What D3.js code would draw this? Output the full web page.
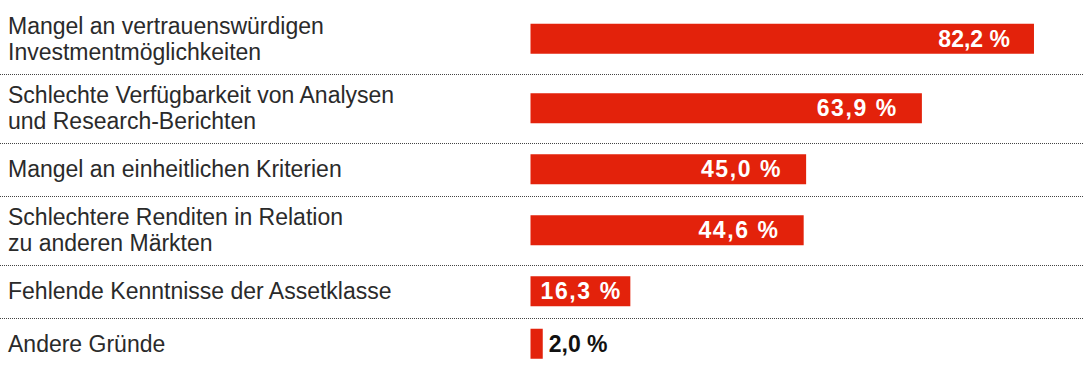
<!DOCTYPE html>
<html>
<head>
<meta charset="utf-8">
<script src="https://cdn.jsdelivr.net/npm/d3@7"></script>
<style>
  body { margin: 0; background: #fff; }
</style>
</head>
<body>
<svg class="chart"></svg>
<script>
var width = 1083,
    height = 365;

// data
var categories = [
  ["Mangel an vertrauenswürdigen", "Investmentmöglichkeiten"],
  ["Schlechte Verfügbarkeit von Analysen", "und Research-Berichten"],
  ["Mangel an einheitlichen Kriterien"],
  ["Schlechtere Renditen in Relation", "zu anderen Märkten"],
  ["Fehlende Kenntnisse der Assetklasse"],
  ["Andere Gründe"]
];
var values = [82.2, 63.9, 45.0, 44.6, 16.3, 2.0];
var valueLabels = ["82,2 %", "63,9 %", "45,0 %", "44,6 %", "16,3 %", "2,0 %"];

var barHeight = 30,
    lineHeight = 26,
    padTop = 4;

var x = d3.scaleLinear().domain([0, 100]).range([530.5, 530.5 + 612.5]);

// row heights depend on number of label lines
var rowH = categories.map(function(c) { return c.length > 1 ? 69.5 : 52.5; });
var rowTop = [];
rowH.reduce(function(acc, h) { rowTop.push(acc); return acc + h; }, padTop);

var chart = d3.select(".chart")
    .attr("width", width)
    .attr("height", height);

// dotted separators between rows
chart.selectAll("line.sep")
    .data(rowTop.slice(1))
  .enter().append("line")
    .attr("class", "sep")
    .attr("x1", 0).attr("x2", width)
    .attr("y1", function(d) { return Math.round(d) + 0.5; })
    .attr("y2", function(d) { return Math.round(d) + 0.5; })
    .attr("stroke", "#444")
    .attr("stroke-width", 1)
    .attr("stroke-dasharray", "1,1");

var row = chart.selectAll("g.row")
    .data(values)
  .enter().append("g")
    .attr("class", "row")
    .attr("transform", function(d, i) { return "translate(0," + (rowTop[i] + rowH[i] / 2) + ")"; });

row.append("text")
    .attr("x", 8)
    .attr("y", function(d, i) { return 8 - (categories[i].length - 1) * lineHeight / 2; })
    .attr("font-family", "'Liberation Sans', Arial, sans-serif")
    .attr("font-size", 23)
    .attr("fill", "#2a2a2a")
    .selectAll("tspan")
    .data(function(d, i) { return categories[i]; })
  .enter().append("tspan")
    .attr("x", 8)
    .attr("dy", function(d, j) { return j ? lineHeight : 0; })
    .text(function(d) { return d; });

row.append("rect")
    .attr("x", x(0))
    .attr("y", -barHeight / 2)
    .attr("width", function(d) { return x(d) - x(0); })
    .attr("height", barHeight)
    .attr("fill", "#e3220b");

var val = row.append("text")
    .attr("y", 8)
    .attr("font-family", "'Liberation Sans', Arial, sans-serif")
    .attr("font-weight", 700)
    .attr("font-size", 23)
    .attr("letter-spacing", function(d, i) { return (i > 0 && i < values.length - 1) ? "1.6px" : "0px"; })
    .text(function(d, i) { return valueLabels[i]; });

// place value labels: right inside, left inside, or outside the bar
val.each(function(d) {
  var t = d3.select(this),
      tw = this.getComputedTextLength(),
      w = x(d) - x(0);
  if (w - 24 - tw >= 10) {
    t.attr("x", x(d) - 24 - tw).attr("fill", "#fff");
  } else if (tw + 10 < w) {
    t.attr("x", x(0) + 10).attr("fill", "#fff");
  } else {
    t.attr("x", x(d) + 6).attr("fill", "#111");
  }
});
</script>
</body>
</html>
